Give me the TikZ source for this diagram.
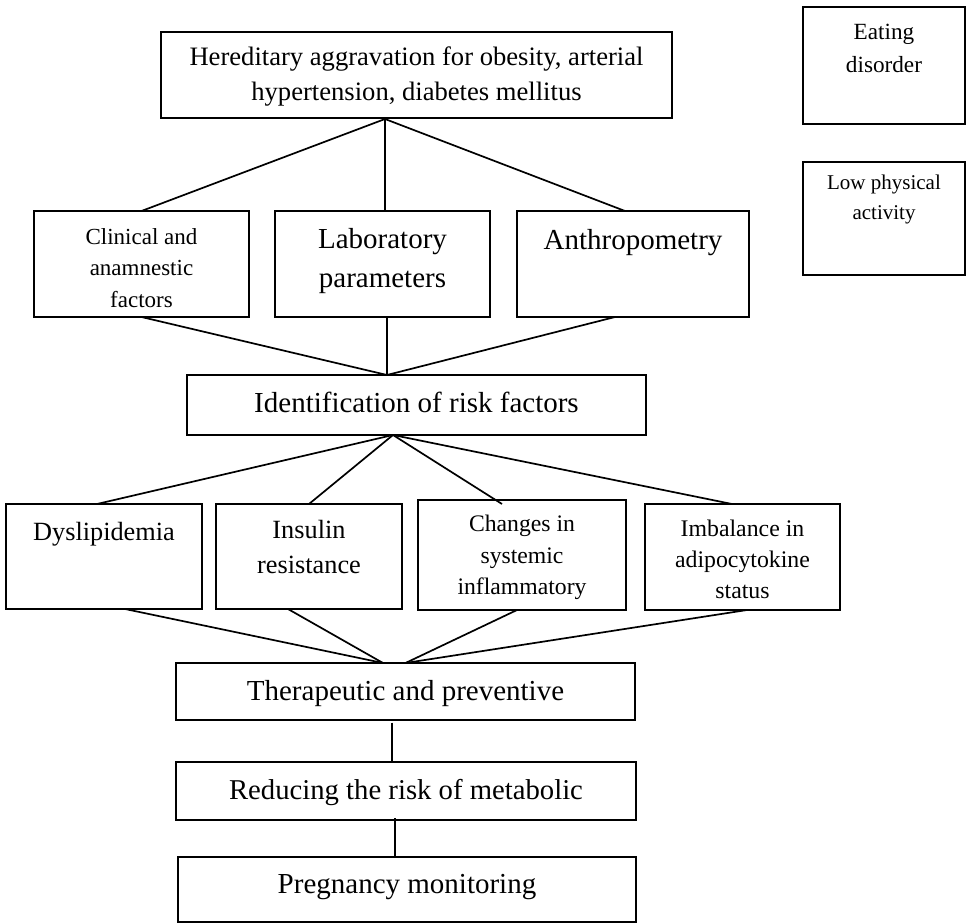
\documentclass[tikz,border=0pt]{standalone}
\usepackage{fontspec}
\setmainfont{Liberation Serif}
\usetikzlibrary{calc}

% width, height, first baseline, font size, baselineskip, text
\newcommand{\cellbody}[6]{\parbox[t][#2pt][t]{#1pt}{\centering\fontsize{#4}{#5}\selectfont
  \vspace*{\dimexpr#3pt-7\baselineskip/10\relax}\strut #6}}

\tikzset{
  box/.style={draw, line width=2pt, inner sep=0pt, outer sep=0pt, anchor=north west},
  link/.style={line width=1.7pt},
}

\begin{document}
\begin{tikzpicture}[x=1pt, y=-1pt]
  \useasboundingbox (0,0) rectangle (970,923);

  % top level
  \node[box] (hered) at (161,32) {\cellbody{511}{86.5}{33.6}{26.6}{35}{Hereditary aggravation for obesity, arterial\\hypertension, diabetes mellitus}};
  \node[box] (eat) at (803,7) {\cellbody{162}{117}{33}{23.2}{32.7}{Eating\\disorder}};
  \node[box] (lowpa) at (803,162) {\cellbody{162}{113}{28}{21}{30}{Low physical\\activity}};

  % examination
  \node[box] (clin) at (34,211) {\cellbody{215}{106}{33.3}{23}{31.5}{Clinical and\\anamnestic\\factors}};
  \node[box] (lab) at (275,211) {\cellbody{215}{106}{37.5}{29}{39}{Laboratory\\parameters}};
  \node[box] (anth) at (517,211) {\cellbody{232}{106}{38.5}{29}{39}{Anthropometry}};

  \node[box] (ident) at (187,375) {\cellbody{459}{60}{37.7}{29}{39}{Identification of risk factors}};

  % risk factors
  \node[box] (dys) at (6,504) {\cellbody{196}{105}{36}{26.3}{35}{Dyslipidemia}};
  \node[box] (ins) at (216,504) {\cellbody{186}{105}{34}{26.3}{35}{Insulin\\resistance}};
  \node[box] (chg) at (418,500) {\cellbody{208}{110}{31.7}{23.7}{31.6}{Changes in\\systemic\\inflammatory}};
  \node[box] (imb) at (645,504) {\cellbody{195}{106}{32}{23.8}{31}{Imbalance in\\adipocytokine\\status}};

  % outcome
  \node[box] (ther) at (176,663) {\cellbody{459}{57}{37.7}{29}{39}{Therapeutic and preventive}};
  \node[box] (red) at (176,762) {\cellbody{460}{58}{37}{28.7}{39}{Reducing the risk of metabolic}};
  \node[box] (preg) at (178,857) {\cellbody{458}{65}{36}{29}{39}{Pregnancy monitoring}};

  % junction points
  \coordinate (hubA) at (385,119);
  \coordinate (hubB) at (387,375);
  \coordinate (hubC) at (393,435);
  \coordinate (hubD) at ([xshift=-22.5pt]ther.north);
  \coordinate (drop1) at ([xshift=-13.5pt,yshift=-2.5pt]ther.south);
  \coordinate (drop2) at ([xshift=-11pt,yshift=2pt]red.south);

  \draw[link] (hubA) -- (clin.north);
  \draw[link] (hubA) -- (hubA |- lab.north);
  \draw[link] (hubA) -- ([xshift=-8pt]anth.north);

  \draw[link] (clin.south) -- (hubB);
  \draw[link] (hubB |- lab.south) -- (hubB);
  \draw[link] ([xshift=-18pt]anth.south) -- (hubB);

  \draw[link] (hubC) -- ([xshift=-7pt]dys.north);
  \draw[link] (hubC) -- (ins.north);
  \draw[link] (hubC) -- ([xshift=-20pt,yshift=-4pt]chg.north);
  \draw[link] (hubC) -- ([xshift=-10.5pt]imb.north);

  \draw[link] ([xshift=21pt]dys.south) -- (hubD);
  \draw[link] ([xshift=-21pt]ins.south) -- (hubD);
  \draw[link] ([xshift=-5pt]chg.south) -- (ther.north);
  \draw[link] ([xshift=4.5pt]imb.south) -- (ther.north);

  \draw[link] (drop1) -- (drop1 |- red.north);
  \draw[link] (drop2) -- (drop2 |- preg.north);
\end{tikzpicture}
\end{document}
